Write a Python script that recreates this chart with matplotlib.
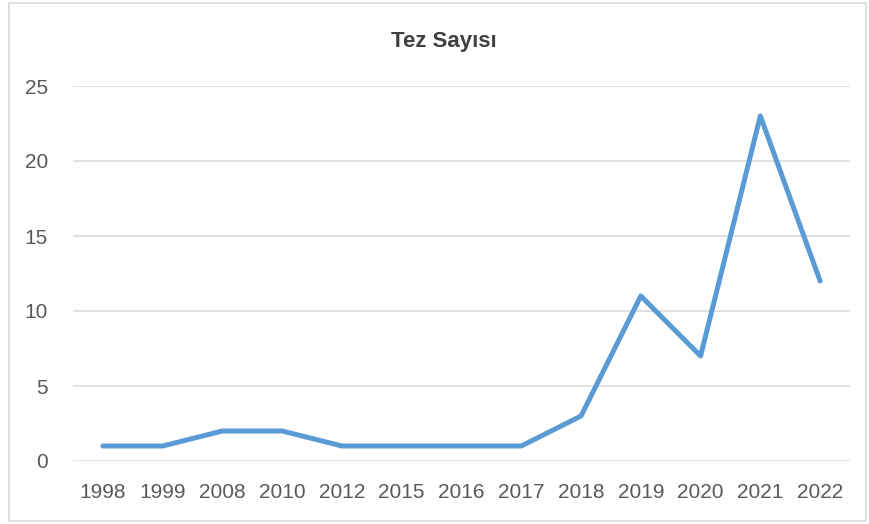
import matplotlib.pyplot as plt
from matplotlib.patches import Rectangle

years = ['1998', '1999', '2008', '2010', '2012', '2015', '2016',
         '2017', '2018', '2019', '2020', '2021', '2022']
counts = [1, 1, 2, 2, 1, 1, 1, 1, 3, 11, 7, 23, 12]
yticks = [0, 5, 10, 15, 20, 25]

plt.rcParams['font.family'] = ['Liberation Sans', 'DejaVu Sans']

fig = plt.figure(figsize=(8.69, 5.24), dpi=100)
ax = fig.add_axes([73/869, 63/524, (850-73)/869, (461-86)/524])

x = range(len(years))
ax.plot(x, counts, color='#5B9BD5', linewidth=3.6, solid_capstyle='round',
        solid_joinstyle='round')

ax.set_xlim(-0.5, len(years) - 0.5)
ax.set_ylim(0, 25)
ax.set_yticks(yticks)
ax.set_xticks(list(x))
ax.set_xticklabels(years)
ax.grid(axis='y', color='#D9D9D9', linewidth=1.1)
ax.set_axisbelow(True)
for s in ax.spines.values():
    s.set_visible(False)
ax.tick_params(axis='both', length=0, labelsize=15, labelcolor='#595959')
ax.tick_params(axis='x', pad=16)
ax.tick_params(axis='y', pad=18)

fig.text(0.511, 1 - 42/524, 'Tez Sayısı', ha='center', va='center',
         fontsize=16, fontweight='bold', color='#404040')

# chart border
fig.patches.append(Rectangle((9/869, 3/524), (866-9)/869, (522-4)/524,
                             transform=fig.transFigure, fill=False,
                             edgecolor='#D9D9D9', linewidth=1.2))

fig.savefig('out.png', dpi=100)
